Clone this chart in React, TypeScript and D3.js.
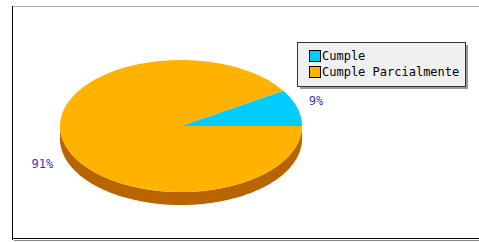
import React from 'react';
import * as d3 from 'd3';

const categories = ['Cumple', 'Cumple Parcialmente'];
const values = [9, 91];
const labels = ['9%', '91%'];
const colors = ['#00ccff', '#ffb300'];
const sideColor = '#b86400';

const W = 479;
const H = 242;
const cx = 181;
const cy = 126;
const rx = 121;
const ry = 66;
const depth = 13;
const font = '"DejaVu Sans Mono", monospace';

// math angle (ccw from 3 o'clock) -> point on the ellipse
const pt = (t: number, dy = 0): [number, number] => [cx + rx * Math.cos(t), cy - ry * Math.sin(t) + dy];

const arcPoints = (a0: number, a1: number, dy = 0) => {
  const n = Math.max(2, Math.ceil(((a1 - a0) / (Math.PI * 2)) * 240));
  return d3.range(n + 1).map(i => pt(a0 + ((a1 - a0) * i) / n, dy));
};

const line = d3.line();

export default function App() {
  const pie = d3.pie<number>().sort(null).startAngle(0).endAngle(Math.PI * 2);
  const arcs = pie(values);

  return (
    <svg width={W} height={H} style={{ position: 'absolute', left: 0, top: 0 }}>
      <rect x={0} y={0} width={W} height={H} fill="#fff" />
      {/* frame */}
      <g shapeRendering="crispEdges">
        <line x1={12} y1={6.5} x2={W} y2={6.5} stroke="#b4b4b4" />
        <line x1={12.5} y1={6} x2={12.5} y2={240} stroke="#000" strokeWidth={1.5} />
        <line x1={12} y1={238.5} x2={W} y2={238.5} stroke="#000" />
        <line x1={14} y1={240.5} x2={W} y2={240.5} stroke="#888" />
      </g>

      {/* side walls */}
      {arcs.map((a, i) => {
        const s = Math.max(a.startAngle, Math.PI);
        const e = Math.min(a.endAngle, Math.PI * 2);
        if (e <= s) return null;
        const top = arcPoints(s, e);
        const bot = arcPoints(s, e, depth).reverse();
        return <path key={'s' + i} d={line([...top, ...bot]) + 'Z'} fill={sideColor} />;
      })}

      {/* top faces */}
      {arcs.map((a, i) => (
        <path
          key={'t' + i}
          d={line([[cx, cy], ...arcPoints(a.startAngle, a.endAngle)]) + 'Z'}
          fill={colors[i]}
        />
      ))}

      {/* labels */}
      {arcs.map((a, i) => {
        const m = (a.startAngle + a.endAngle) / 2;
        const c = Math.cos(m);
        const sn = Math.sin(m);
        const x = cx + (rx + 12) * c;
        const y = cy - (ry + 24) * sn + (sn < 0 ? depth : 0);
        return (
          <text key={'l' + i} x={x} y={y} dy="0.35em" textAnchor={c >= 0 ? 'start' : 'end'}
            fontFamily={font} fontSize={12} fill="#2f3fa6">
            {labels[i]}
          </text>
        );
      })}

      {/* legend */}
      <g shapeRendering="crispEdges">
        <rect x={300} y={45} width={168} height={44} fill="#9a9a9a" />
        <rect x={297.5} y={42.5} width={168} height={44} fill="#f0f0f0" stroke="#333" />
        {categories.map((c, i) => (
          <g key={c} transform={`translate(309,${50 + i * 16})`}>
            <rect x={0.5} y={0.5} width={11} height={11} fill={colors[i]} stroke="#000" />
            <text x={13} y={10} fontFamily={font} fontSize={12} fill="#000">{c}</text>
          </g>
        ))}
      </g>
    </svg>
  );
}
